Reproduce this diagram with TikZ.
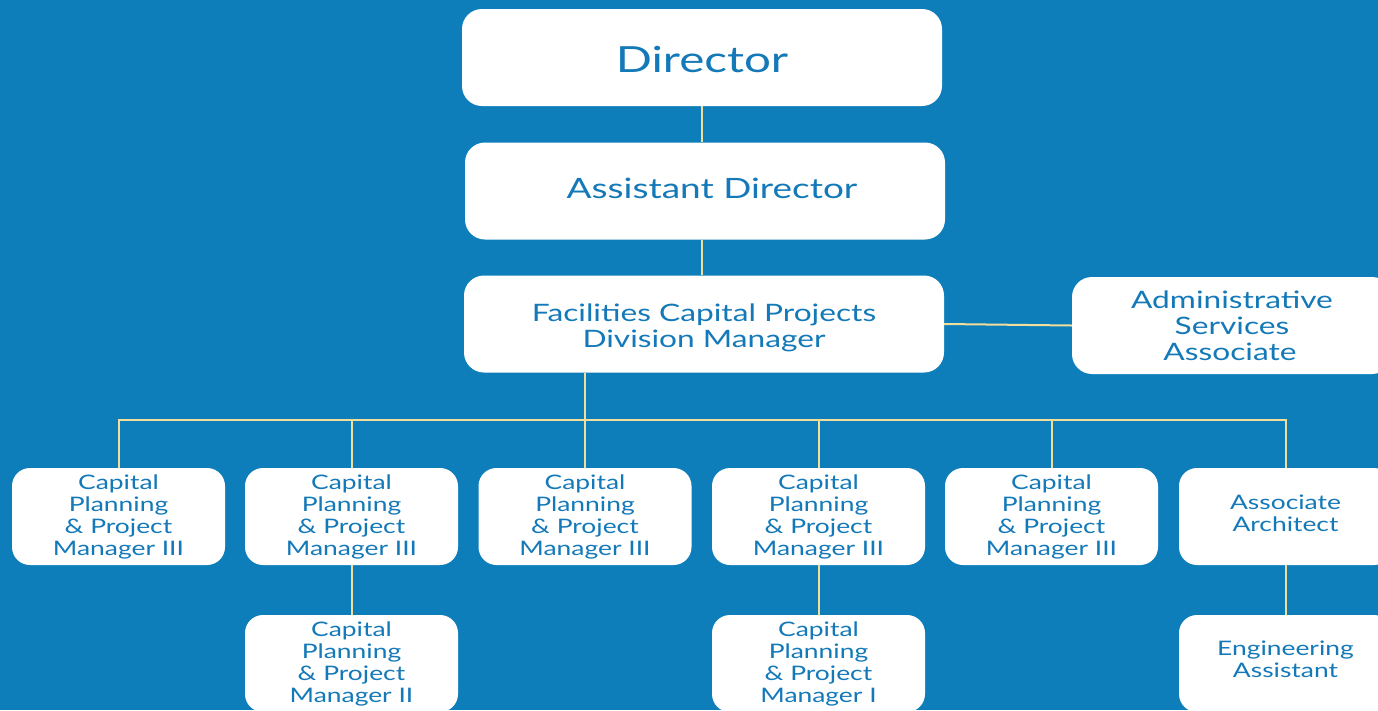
\documentclass[tikz,border=0pt]{standalone}
\usepackage{fontspec}
\setmainfont{Lato}[FakeStretch=1.32]
\definecolor{bg}{HTML}{0E7EBA}
\definecolor{txt}{HTML}{1479B8}
\definecolor{ln}{HTML}{F2DE9C}
\begin{document}
\begin{tikzpicture}[x=1pt,y=-1pt,
  box/.style={fill=white, rounded corners=20pt, text=txt, align=center, inner sep=0pt, anchor=center},
  big/.style={box, minimum width=480pt, minimum height=97pt},
  small/.style={box, minimum width=213pt, minimum height=97pt, rounded corners=18pt, font=\fontsize{20}{22}\selectfont},
  conn/.style={draw=ln, line width=2pt}]
\fill[bg] (0,0) rectangle (1378,710);
\useasboundingbox (0,0) rectangle (1378,710);
\clip (0,0) rectangle (1378,710);

\node[big, font=\fontsize{36}{40}\selectfont] (dir) at (702,57.5) {\rule{0pt}{30pt}Director};
\node[big, font=\fontsize{28}{32}\selectfont] (ad) at (705,191) {\hspace*{14pt}Assistant Director\rule[-5pt]{0pt}{0pt}};
\node[big, font=\fontsize{24}{26}\selectfont] (fac) at (704,324) {\rule{0pt}{25pt}Facilities Capital Projects\\Division Manager};
\node[box, minimum width=320pt, minimum height=97pt, font=\fontsize{24}{26}\selectfont] (adm) at (1232,325.5) {Administrative\\Services\\Associate\hspace*{4pt}};

\node[small] (r1) at (118.5,516.5) {Capital\\Planning\\\& Project\\Manager III};
\node[small] (r2) at (351.5,516.5) {Capital\\Planning\\\& Project\\Manager III};
\node[small] (r3) at (585,516.5) {Capital\\Planning\\\& Project\\Manager III};
\node[small] (r4) at (818.5,516.5) {Capital\\Planning\\\& Project\\Manager III};
\node[small] (r5) at (1051.5,516.5) {Capital\\Planning\\\& Project\\Manager III};
\node[small] (r6) at (1285.5,516.5) {Associate\\Architect\rule[-7pt]{0pt}{0pt}};

\node[small] (b2) at (351.5,663.5) {Capital\\Planning\\\& Project\\Manager II};
\node[small] (b4) at (818.5,663.5) {Capital\\Planning\\\& Project\\Manager I};
\node[small] (b6) at (1285.5,663.5) {Engineering\\Assistant\rule[-8pt]{0pt}{0pt}};

\coordinate (bus) at (585,420);

\draw[conn] (dir.south) -- (dir.south |- ad.north);
\draw[conn] (dir.south |- ad.south) -- (dir.south |- fac.north);
\draw[conn] (fac.east) -- (adm.west);
\draw[conn] (fac.south -| bus) -- (bus);
\draw[conn] (r1.north) |- (bus) -| (r6.north);
\draw[conn] (r2.north) -- (r2.north |- bus);
\draw[conn] (r3.north) -- (r3.north |- bus);
\draw[conn] (r4.north) -- (r4.north |- bus);
\draw[conn] (r5.north) -- (r5.north |- bus);
\draw[conn] (r2.south) -- (b2.north);
\draw[conn] (r4.south) -- (b4.north);
\draw[conn] (r6.south) -- (b6.north);
\end{tikzpicture}
\end{document}
